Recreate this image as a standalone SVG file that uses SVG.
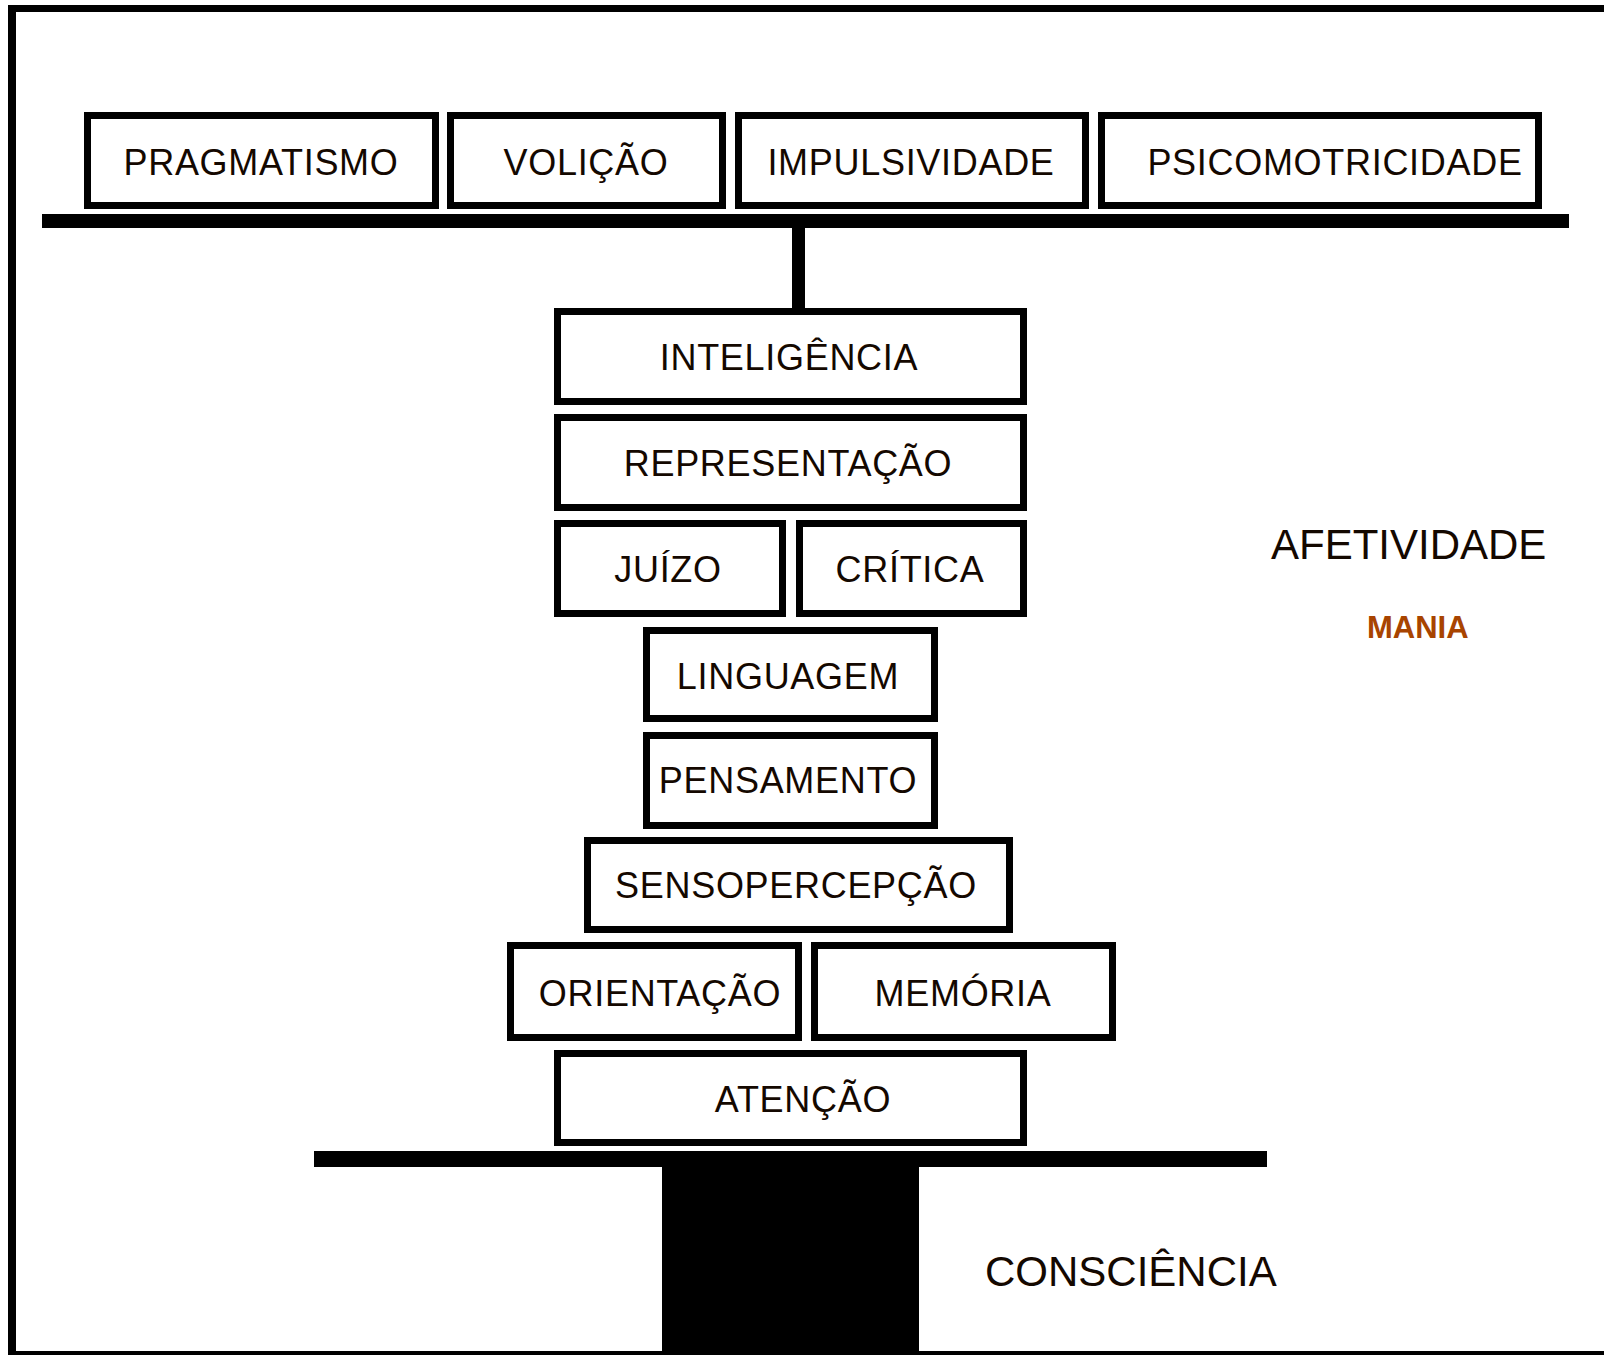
<svg xmlns="http://www.w3.org/2000/svg" width="1604" height="1355" viewBox="0 0 1604 1355">
<style>
.box{fill:#ffffff;stroke:#000000;stroke-width:7}
.lbl{font-family:"Liberation Sans",Arial,sans-serif;font-size:36px;fill:#140800;text-anchor:middle;letter-spacing:0.7px}
.big{font-family:"Liberation Sans",Arial,sans-serif;font-size:42px;fill:#140800}
.mania{font-family:"Liberation Sans",Arial,sans-serif;font-size:31px;font-weight:bold;fill:#a84400}
.bar{fill:#000000}
</style>
<rect x="0" y="0" width="1604" height="1355" fill="#ffffff"/>
<g id="frame">
<rect class="bar" x="8" y="5" width="8" height="1350"/>
<rect class="bar" x="8" y="5" width="1596" height="7"/>
<rect class="bar" x="8" y="1351" width="1596" height="4"/>
</g>
<g id="connectors">
<rect class="bar" x="42" y="214" width="1527" height="14"/>
<rect class="bar" x="792" y="226" width="13" height="84"/>
<rect class="bar" x="314" y="1151" width="953" height="16"/>
<rect class="bar" x="662" y="1165" width="257" height="190"/>
</g>
<g id="n-pragmatismo"><rect class="box" x="87.5" y="115.5" width="348" height="90"/><text class="lbl" x="261" y="175">PRAGMATISMO</text></g>
<g id="n-volicao"><rect class="box" x="450.5" y="115.5" width="272" height="90"/><text class="lbl" x="586" y="175">VOLIÇÃO</text></g>
<g id="n-impulsividade"><rect class="box" x="738.5" y="115.5" width="347" height="90"/><text class="lbl" x="911" y="175">IMPULSIVIDADE</text></g>
<g id="n-psicomotricidade"><rect class="box" x="1101.5" y="115.5" width="437" height="90"/><text class="lbl" x="1335" y="175">PSICOMOTRICIDADE</text></g>
<g id="n-inteligencia"><rect class="box" x="557.5" y="311.5" width="466" height="90"/><text class="lbl" x="789" y="370">INTELIGÊNCIA</text></g>
<g id="n-representacao"><rect class="box" x="557.5" y="417.5" width="466" height="90"/><text class="lbl" x="788" y="476">REPRESENTAÇÃO</text></g>
<g id="n-juizo"><rect class="box" x="557.5" y="523.5" width="225" height="90"/><text class="lbl" x="668" y="582">JUÍZO</text></g>
<g id="n-critica"><rect class="box" x="799.5" y="523.5" width="224" height="90"/><text class="lbl" x="910" y="582">CRÍTICA</text></g>
<g id="n-linguagem"><rect class="box" x="646.5" y="630.5" width="288" height="88"/><text class="lbl" x="788" y="689">LINGUAGEM</text></g>
<g id="n-pensamento"><rect class="box" x="646.5" y="735.5" width="288" height="90"/><text class="lbl" x="788" y="793">PENSAMENTO</text></g>
<g id="n-sensopercepcao"><rect class="box" x="587.5" y="840.5" width="422" height="89"/><text class="lbl" x="796" y="898">SENSOPERCEPÇÃO</text></g>
<g id="n-orientacao"><rect class="box" x="510.5" y="945.5" width="288" height="92"/><text class="lbl" x="660" y="1006">ORIENTAÇÃO</text></g>
<g id="n-memoria"><rect class="box" x="814.5" y="945.5" width="298" height="92"/><text class="lbl" x="963" y="1006">MEMÓRIA</text></g>
<g id="n-atencao"><rect class="box" x="557.5" y="1053.5" width="466" height="89"/><text class="lbl" x="803" y="1112">ATENÇÃO</text></g>
<g id="n-afetividade"><text class="big" x="1271" y="559">AFETIVIDADE</text></g>
<g id="n-mania"><text class="mania" x="1367" y="638">MANIA</text></g>
<g id="n-consciencia"><text class="big" x="985" y="1286">CONSCIÊNCIA</text></g>
</svg>
